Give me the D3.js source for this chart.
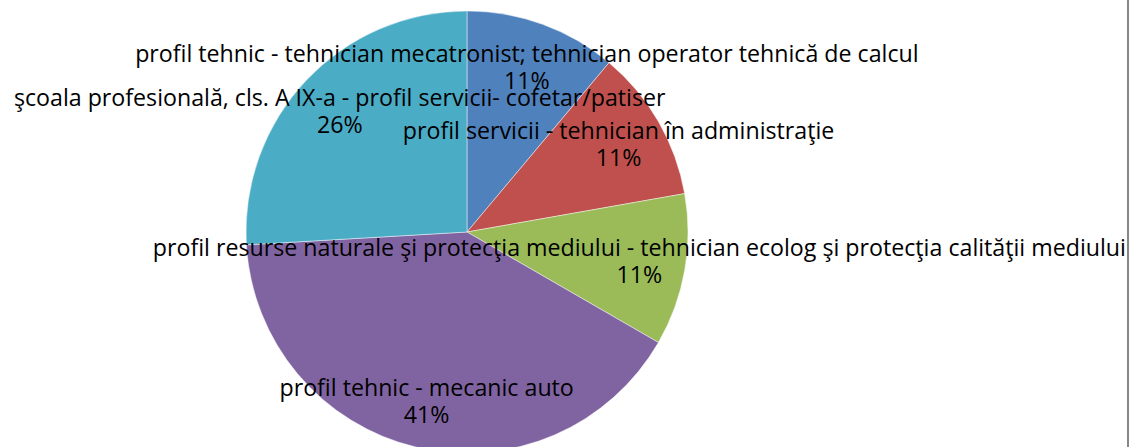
<!DOCTYPE html>
<html>
<head>
<meta charset="utf-8">
<script src="https://cdnjs.cloudflare.com/ajax/libs/d3/7.8.5/d3.min.js"></script>
<style>
    body { margin: 0; background: #fff; }
    svg { display: block; }
</style>
</head>
<body>
<svg width="1130" height="447"></svg>
<script>
// categories and values (counts), shown as percentages
var categories = [
    'profil tehnic - tehnician mecatronist; tehnician operator tehnică de calcul',
    'profil servicii - tehnician în administraţie',
    'profil resurse naturale şi protecţia mediului - tehnician ecolog şi protecţia calităţii mediului',
    'profil tehnic - mecanic auto',
    'şcoala profesională, cls. A IX-a - profil servicii- cofetar/patiser'
];
var values = [3, 3, 3, 11, 7];
var colors = ['#4F81BD', '#C0504D', '#9BBB59', '#8064A2', '#4BACC6'];

var width = 1130, height = 447;
var cx = 467, cy = 232, radius = 221;

var svg = d3.select('svg');

var data = categories.map(function(c, i){
    return {name: c, value: values[i], color: colors[i]};
});
var total = d3.sum(values);

var pie = d3.pie()
    .sort(null)
    .value(function(d){ return d.value; });

var arc = d3.arc().innerRadius(0).outerRadius(radius);
var labelArc = d3.arc().innerRadius(175).outerRadius(175);

var g = svg.append('g').attr('transform', 'translate(' + cx + ',' + cy + ')');

var arcs = pie(data);

g.selectAll('path')
    .data(arcs)
    .enter().append('path')
    .attr('d', arc)
    .style('fill', function(d){ return d.data.color; })
    .style('stroke', 'rgba(255,255,255,0.45)')
    .style('stroke-width', 1);

var labels = g.selectAll('text.lbl')
    .data(arcs)
    .enter().append('text')
    .attr('class', 'lbl')
    .attr('text-anchor', 'middle')
    .style('font-family', '"Open Sans", "Noto Sans", sans-serif')
    .style('font-size', '23.2px')
    .style('fill', '#000');

labels.append('tspan')
    .attr('x', function(d){ return labelArc.centroid(d)[0]; })
    .attr('y', function(d){ return labelArc.centroid(d)[1] - 6; })
    .text(function(d){ return d.data.name; });

labels.append('tspan')
    .attr('x', function(d){ return labelArc.centroid(d)[0]; })
    .attr('y', function(d){ return labelArc.centroid(d)[1] + 21; })
    .text(function(d){ return Math.round(d.data.value / total * 100) + '%'; });

// right frame edge
svg.append('line')
    .attr('x1', 1128).attr('x2', 1128)
    .attr('y1', 0).attr('y2', height)
    .style('stroke', '#878787')
    .style('stroke-width', 2);
</script>
</body>
</html>
